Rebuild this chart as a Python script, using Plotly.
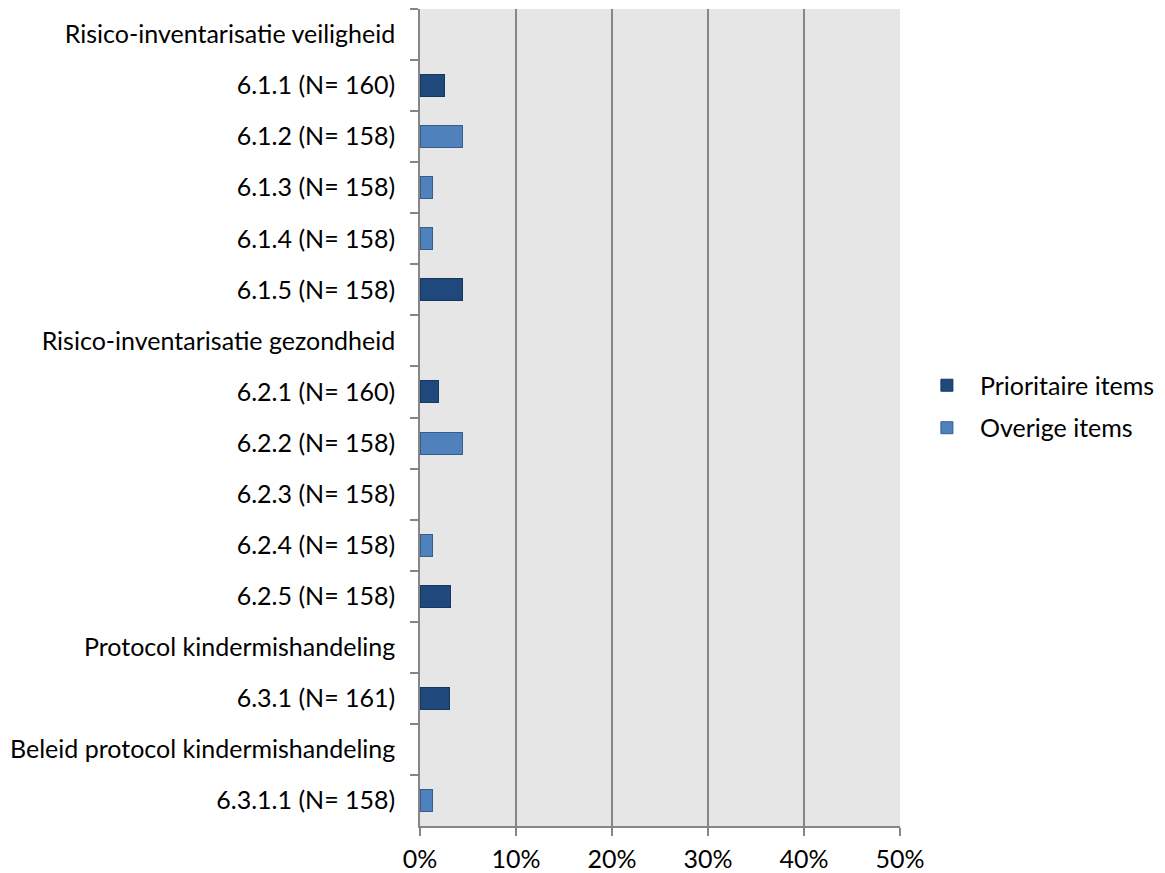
import plotly.graph_objects as go

categories = [
    "Risico-inventarisatie veiligheid",
    "6.1.1 (N= 160)",
    "6.1.2 (N= 158)",
    "6.1.3 (N= 158)",
    "6.1.4 (N= 158)",
    "6.1.5 (N= 158)",
    "Risico-inventarisatie gezondheid",
    "6.2.1 (N= 160)",
    "6.2.2 (N= 158)",
    "6.2.3 (N= 158)",
    "6.2.4 (N= 158)",
    "6.2.5 (N= 158)",
    "Protocol kindermishandeling",
    "6.3.1 (N= 161)",
    "Beleid protocol kindermishandeling",
    "6.3.1.1 (N= 158)",
]
prioritaire = [None, 0.025, None, None, None, 0.044, None, 0.019, None, None, None, 0.032, None, 0.031, None, None]
overige = [None, None, 0.044, 0.013, 0.013, None, None, None, 0.044, None, 0.013, None, None, None, None, 0.013]
x_ticks = [0, 0.1, 0.2, 0.3, 0.4, 0.5]

fig = go.Figure()
fig.add_trace(go.Bar(
    y=categories, x=prioritaire, orientation="h", name="Prioritaire items",
    marker=dict(color="#1F497D", line=dict(color="#17375E", width=1)),
    width=0.43, legendgroup="a",
))
fig.add_trace(go.Bar(
    y=categories, x=overige, orientation="h", name="Overige items",
    marker=dict(color="#4F81BD", line=dict(color="#385D8A", width=1)),
    width=0.43, legendgroup="b",
))

fig.update_layout(
    barmode="stack",
    width=1165, height=873,
    margin=dict(l=412, r=273, t=1, b=55),
    paper_bgcolor="white",
    plot_bgcolor="#E6E6E6",
    font=dict(family="Lato", size=25, color="black"),
    legend=dict(
        x=1.029, y=0.5135, xanchor="left", yanchor="middle",
        font=dict(size=25), traceorder="grouped", tracegroupgap=7,
        itemwidth=56,
    ),
    xaxis=dict(
        range=[0, 0.5], tickvals=x_ticks, tickformat=".0%",
        showgrid=True, gridcolor="#868686", gridwidth=1.5,
        ticks="outside", ticklen=8, tickcolor="#868686", tickwidth=1.5,
        showline=True, linecolor="#868686", linewidth=1.5,
        zeroline=False, fixedrange=True, ticklabelstandoff=2,
        automargin=False,
    ),
    yaxis=dict(
        categoryorder="array", categoryarray=categories,
        autorange="reversed", type="category",
        ticks="outside", ticklen=8, tickcolor="#868686", tickwidth=1.5,
        tickson="boundaries",
        showline=True, linecolor="#868686", linewidth=1.5,
        showgrid=False, ticklabelstandoff=18, automargin=False,
    ),
)

fig.write_html("out.html")
